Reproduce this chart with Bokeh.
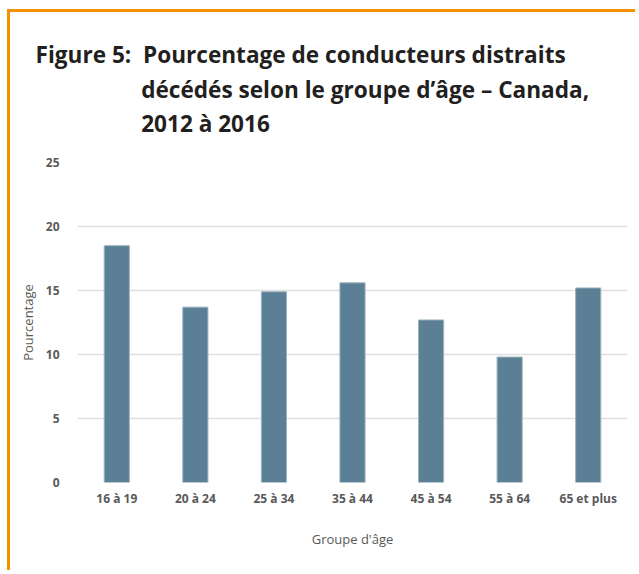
from bokeh.plotting import figure
from bokeh.models import FixedTicker, Range1d
from bokeh.embed import file_html
from bokeh.resources import INLINE

categories = ["16 à 19", "20 à 24", "25 à 34", "35 à 44", "45 à 54", "55 à 64", "65 et plus"]
values = [18.5, 13.7, 14.9, 15.6, 12.7, 9.8, 15.2]
y_ticks = [0, 5, 10, 15, 20, 25]
title_lines = ["Figure 5:\u00a0 Pourcentage de conducteurs distraits",
               "décédés selon le groupe d’âge – Canada,",
               "2012 à 2016"]
x_title = "Groupe d'âge"
y_title = "Pourcentage"

indent = "\u00a0" * 18
title_text = "\n".join([title_lines[0]] + [indent + t for t in title_lines[1:]])

p = figure(x_range=categories, y_range=Range1d(0, 25), width=628, height=561,
           output_backend="svg", toolbar_location=None,
           min_border_left=67, min_border_right=11, min_border_top=150, min_border_bottom=91,
           styles={"margin-left": "7px", "margin-top": "9px",
                   "border-top": "3px solid #F39200", "border-left": "3px solid #F39200"})

p.vbar(x=categories, top=values, width=0.32, fill_color="#5B7F95", line_color="#9DB2C0", line_width=1)

p.title.text = title_text
p.title.align = "left"
p.title.offset = -42
p.title.text_font = "Open Sans"
p.title.text_font_size = "22.6px"
p.title.text_font_style = "bold"
p.title.text_color = "#231F20"
p.title.text_line_height = 1.12
p.title.standoff = 46

p.outline_line_color = None
p.xgrid.grid_line_color = None
p.ygrid.grid_line_color = "#E0E0E0"
p.ygrid.grid_line_width = 1.5
p.yaxis.ticker = FixedTicker(ticks=y_ticks)
for ax in (p.xaxis, p.yaxis):
    ax.axis_line_color = None
    ax.major_tick_line_color = None
    ax.minor_tick_line_color = None
    ax.major_label_text_font = "Open Sans"
    ax.major_label_text_font_size = "12px"
    ax.major_label_text_font_style = "bold"
    ax.major_label_text_color = "#595959"
    ax.axis_label_text_font = "Open Sans"
    ax.axis_label_text_font_size = "13px"
    ax.axis_label_text_font_style = "normal"
    ax.axis_label_text_color = "#595959"
p.xaxis.axis_label = x_title
p.yaxis.axis_label = y_title
p.yaxis.major_label_standoff = 12
p.xaxis.major_label_standoff = 1
p.xaxis.axis_label_standoff = 20
p.yaxis.axis_label_standoff = 6
p.x_range.range_padding = 0

open("out.html", "w").write(file_html(p, INLINE))
